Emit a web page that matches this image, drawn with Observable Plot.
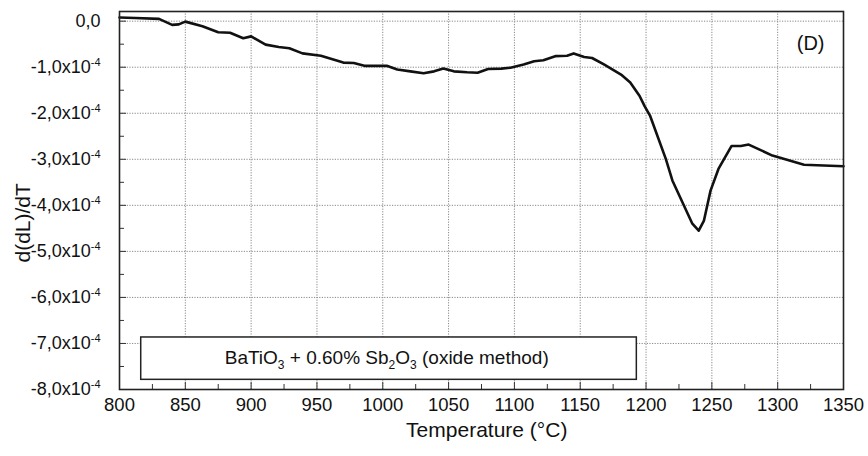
<!DOCTYPE html>
<html>
<head>
<meta charset="utf-8">
<script src="https://cdn.jsdelivr.net/npm/d3@7"></script>
<script src="https://cdn.jsdelivr.net/npm/@observablehq/plot@0.6"></script>
<style>
  html, body { margin: 0; padding: 0; background: #fff; }
  #chart { width: 868px; height: 456px; }
</style>
</head>
<body>
<div id="chart"></div>
<script>
// Temperature (°C)
const temperature = [800, 812, 830, 840, 845, 850, 863, 875, 884, 894, 900, 911, 921, 929, 939, 953, 970, 978, 986, 1003, 1011, 1021, 1031, 1039, 1046, 1054, 1064, 1072, 1080, 1090, 1097, 1107, 1115, 1122, 1131, 1140, 1145, 1153, 1159, 1168, 1181, 1188, 1195, 1199, 1203, 1215, 1220, 1235, 1240, 1244, 1249, 1255, 1265, 1272, 1278, 1296, 1320, 1350];
// d(dL)/dT in units of 1e-4
const dLdT = [0.08, 0.07, 0.05, -0.08, -0.07, -0.01, -0.11, -0.24, -0.25, -0.37, -0.33, -0.51, -0.56, -0.59, -0.70, -0.75, -0.90, -0.91, -0.97, -0.97, -1.05, -1.09, -1.13, -1.09, -1.03, -1.09, -1.11, -1.12, -1.04, -1.03, -1.01, -0.94, -0.87, -0.85, -0.76, -0.75, -0.70, -0.78, -0.80, -0.94, -1.16, -1.33, -1.62, -1.85, -2.05, -2.99, -3.46, -4.39, -4.55, -4.33, -3.68, -3.21, -2.71, -2.71, -2.68, -2.92, -3.12, -3.15];

const xMajorTicks = [800, 850, 900, 950, 1000, 1050, 1100, 1150, 1200, 1250, 1300, 1350];
const xMinorTicks = [825, 875, 925, 975, 1025, 1075, 1125, 1175, 1225, 1275, 1325];
const yMajorTicks = [0, -1, -2, -3, -4, -5, -6, -7, -8];
const yMinorTicks = [-0.5, -1.5, -2.5, -3.5, -4.5, -5.5, -6.5, -7.5];
const yExponent = "-4";

const xTitle = "Temperature (°C)";
const yTitle = "d(dL)/dT";
const panelLabel = "(D)";
// legend text pieces: [text, isSubscript]
const legendParts = [["BaTiO", 0], ["3", 1], [" + 0.60% Sb", 0], ["2", 1], ["O", 0], ["3", 1], [" (oxide method)", 0]];
const legendBox = [{x1: 816.5, x2: 1193, y1: -6.87, y2: -7.79}];

const data = temperature.map((t, i) => ({t, v: dLdT[i]}));

const font = "'Liberation Sans', Arial, Helvetica, sans-serif";

const plot = Plot.plot({
  width: 868,
  height: 456,
  marginLeft: 119,
  marginRight: 25,
  marginTop: 11,
  marginBottom: 67,
  style: {fontFamily: font, fontSize: "18px", color: "#111", background: "#fff"},
  x: {domain: [800, 1350]},
  y: {domain: [-8, 0.21]},
  marks: [
    Plot.gridX(xMajorTicks, {stroke: "#888", strokeOpacity: 1, strokeDasharray: "1.2,1.4", strokeWidth: 1}),
    Plot.gridY(yMajorTicks, {stroke: "#888", strokeOpacity: 1, strokeDasharray: "1.2,1.4", strokeWidth: 1}),
    Plot.axisX(xMajorTicks, {tickSize: 0, tickPadding: 8, tickFormat: d => String(d), label: null, fontSize: 18.5}),
    Plot.axisX(xMajorTicks, {tickSize: -7, text: null, label: null, stroke: "#333"}),
    Plot.axisX(xMinorTicks, {tickSize: -5, text: null, label: null, stroke: "#333"}),
    Plot.axisY(yMajorTicks, {tickSize: 0, tickPadding: 19, label: null, fontSize: 18,
      tickFormat: d => d === 0 ? "0,0" : d.toFixed(1).replace(".", ",") + "x10"}),
    Plot.axisY(yMajorTicks, {tickSize: -7, text: null, label: null, stroke: "#333"}),
    Plot.axisY(yMinorTicks, {tickSize: -5, text: null, label: null, stroke: "#333"}),
    Plot.line(data, {x: "t", y: "v", stroke: "#111", strokeWidth: 2.6, strokeLinejoin: "round"}),
    Plot.rect(legendBox, {x1: "x1", x2: "x2", y1: "y1", y2: "y2", fill: "#fff", stroke: "#222", strokeWidth: 1.5}),
    Plot.text([legendParts.map(p => p[0]).join("")], {x: 1003, y: -7.31, text: d => d, fontSize: 19, fill: "#111", className: "legend-label"}),
    Plot.text([panelLabel], {x: 1325, y: -0.49, text: d => d, fontSize: 20, fill: "#111"}),
    Plot.text([xTitle], {x: 1079, frameAnchor: "bottom", dy: 47, text: d => d, fontSize: 21, fill: "#111"}),
    Plot.text([yTitle], {x: 727, y: -4.38, rotate: -90, clip: false, text: d => d, fontSize: 21, fill: "#111"}),
    Plot.frame({stroke: "#222", strokeWidth: 1.6})
  ]
});

document.getElementById("chart").appendChild(plot);

// superscript exponents on y tick labels
plot.querySelectorAll('g[aria-label="y-axis tick label"] text').forEach(t => {
  const s = t.textContent;
  if (s.endsWith("x10")) {
    const sup = document.createElementNS("http://www.w3.org/2000/svg", "tspan");
    sup.setAttribute("dy", "-7");
    sup.setAttribute("font-size", "11");
    sup.textContent = yExponent;
    t.appendChild(sup);
  }
});

// subscripts in legend text
plot.querySelectorAll('.legend-label text').forEach(t => {
  t.textContent = "";
  let prevSub = false;
  legendParts.forEach(([s, sub]) => {
    const ts = document.createElementNS("http://www.w3.org/2000/svg", "tspan");
    ts.textContent = s;
    if (sub && !prevSub) { ts.setAttribute("dy", "5"); ts.setAttribute("font-size", "12"); }
    else if (sub) { ts.setAttribute("font-size", "12"); }
    else if (!sub && prevSub) { ts.setAttribute("dy", "-5"); }
    prevSub = !!sub;
    t.appendChild(ts);
  });
});
</script>
</body>
</html>
